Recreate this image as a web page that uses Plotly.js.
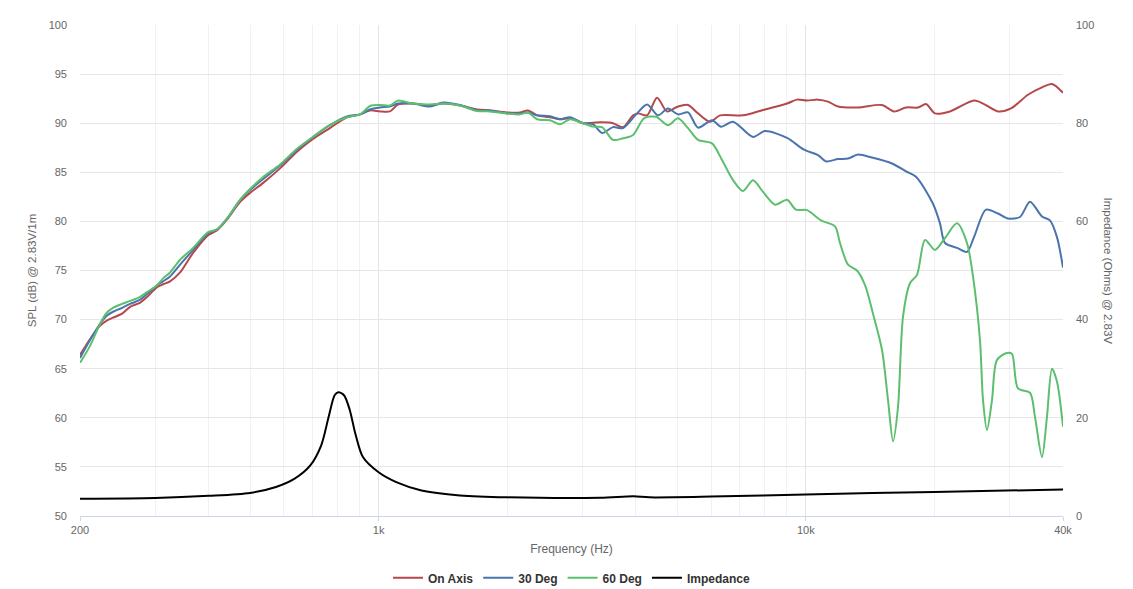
<!DOCTYPE html>
<html>
<head>
<meta charset="utf-8">
<script src="https://cdn.plot.ly/plotly-3.0.1.min.js"></script>
<style>
  html, body { margin: 0; padding: 0; background: #fff; }
  #chart { width: 1133px; height: 589px; }
</style>
</head>
<body>
<div id="chart"></div>
<script>
// frequency response
var onAxisFreq = [200, 211, 223, 231, 239, 251, 262, 276, 287, 303, 313, 325, 343, 368, 399, 419, 442, 474, 500, 536,
  588, 644, 702, 769, 843, 905, 955, 1008, 1063, 1110, 1204, 1319, 1415, 1551, 1700, 1823, 1998, 2143, 2237, 2349,
  2519, 2659, 2806, 3009, 3176, 3333, 3538, 3734, 3942, 4050, 4251, 4485, 4733, 5021, 5300, 5594, 5968, 6296, 7129, 7942,
  9038, 9538, 10062, 10680, 11272, 11894, 13250, 15081, 16088, 17163, 18310, 19114, 20064, 21754, 24757, 26128, 28179,
  30220, 33119, 35716, 37692, 40000];
var onAxis = [66.4, 68.0, 69.4, 69.9, 70.2, 70.6, 71.3, 71.7, 72.3, 73.3, 73.6, 73.9, 74.8, 76.8, 78.6, 79.1, 80.2, 82.0, 82.9, 83.9,
  85.4, 87.1, 88.4, 89.5, 90.6, 90.9, 91.3, 91.2, 91.2, 91.9, 92.0, 91.8, 92.0, 91.8, 91.4, 91.3, 91.1, 91.1, 91.3, 90.8,
  90.6, 90.4, 90.5, 90.0, 90.05, 90.1, 90.0, 89.6, 90.8, 91.0, 90.8, 92.6, 91.2, 91.7, 91.85, 91.0, 90.15, 90.8, 90.8, 91.35,
  92.0, 92.4, 92.3, 92.4, 92.2, 91.7, 91.6, 91.85, 91.2, 91.6, 91.6, 91.95, 91.0, 91.2, 92.3, 91.95, 91.2,
  91.5, 92.9, 93.65, 94.0, 93.1];

var deg30Freq = [200, 211, 223, 231, 239, 251, 262, 276, 287, 303, 313, 325, 343, 368, 399, 419, 442, 474, 500, 536,
  588, 644, 702, 769, 843, 905, 955, 1008, 1063, 1110, 1204, 1319, 1415, 1551, 1700, 1823, 1998, 2143, 2237, 2349,
  2519, 2659, 2806, 3009, 3176, 3333, 3538, 3734, 4026, 4251, 4508, 4758, 5021, 5300, 5594, 6032, 6333, 6757, 7524, 8027,
  9038, 9906, 10680, 11154, 11894, 12556, 13250, 14288, 15914, 17163, 18111, 19849, 20612, 21174, 22590, 23841, 24757,
  26414, 28179, 29738, 31722, 33478, 35716, 37286, 38720, 40000];
var deg30 = [66.1, 67.9, 69.6, 70.4, 70.8, 71.2, 71.6, 72.0, 72.6, 73.5, 73.9, 74.4, 75.6, 77.1, 78.8, 79.2, 80.3, 82.2, 83.2, 84.3,
  85.7, 87.3, 88.6, 89.8, 90.7, 90.9, 91.4, 91.6, 91.7, 92.0, 92.0, 91.7, 92.1, 91.85, 91.3, 91.3, 91.0, 91.0, 91.1, 90.8,
  90.7, 90.4, 90.6, 90.0, 89.9, 89.0, 89.6, 89.5, 91.0, 91.9, 90.8, 91.5, 90.9, 91.1, 89.55, 90.3, 89.65, 90.15, 88.6, 89.2,
  88.5, 87.3, 86.75, 86.1, 86.35, 86.4, 86.8, 86.5, 85.9, 85.1, 84.55, 81.8, 79.8, 77.8, 77.3, 76.9, 78.4,
  81.2, 80.8, 80.3, 80.45, 82.0, 80.5, 80.1, 78.4, 75.3];

var deg60Freq = [200, 211, 223, 231, 239, 251, 262, 276, 287, 303, 313, 325, 343, 368, 399, 419, 442, 474, 500, 536,
  588, 644, 702, 769, 843, 905, 955, 1008, 1063, 1110, 1204, 1319, 1415, 1551, 1700, 1823, 1998, 2143, 2237, 2349,
  2519, 2659, 2806, 3009, 3176, 3333, 3538, 3734, 3942, 4181, 4460, 4758, 5021, 5300, 5594, 6032, 6366, 6757, 7129, 7524,
  7942, 8474, 9038, 9484, 10062, 10853, 11703, 12023, 12556, 13178, 13760, 14366, 15081, 15576, 16003, 16438, 16888,
  17535, 18212, 19013, 20064, 21174, 22590, 23841, 24626, 25569, 25990, 26557, 27281, 28026, 29574, 30382, 31380,
  33478, 34392, 35716, 36690, 37692, 38720, 40000];
var deg60 = [65.6, 67.3, 69.6, 70.7, 71.2, 71.6, 71.9, 72.3, 72.8, 73.5, 74.2, 74.8, 76.1, 77.3, 78.9, 79.2, 80.3, 82.2, 83.3, 84.5,
  85.8, 87.4, 88.6, 89.8, 90.6, 90.9, 91.75, 91.85, 91.8, 92.3, 92.0, 91.9, 92.0, 91.8, 91.24, 91.2, 91.0, 90.9, 91.1, 90.4,
  90.3, 89.9, 90.4, 90.0, 89.65, 89.6, 88.3, 88.46, 88.8, 90.5, 90.66, 89.8, 90.5, 89.5, 88.3, 87.95, 86.25, 84.2, 83.1, 84.2,
  83.0, 81.7, 82.2, 81.2, 81.15, 80.1, 79.5, 77.8, 75.6, 75.0, 73.5, 70.6, 66.9, 61.8, 57.6, 61.1, 70.3,
  73.7, 74.55, 78.1, 77.1, 78.3, 79.8, 77.8, 74.4, 67.9, 61.8, 58.75, 61.8, 65.9, 66.6, 66.5, 63.0,
  62.55, 60.1, 56.0, 60.1, 65.0, 63.7, 59.1];

var impFreq = [200, 300, 400, 500, 575, 636, 692, 734, 764, 789, 805, 830, 856, 882, 919, 1000, 1100, 1260, 1550,
  2000, 3300, 3950, 4300, 6000, 10000, 20000, 40000];
var impedance = [3.5, 3.65, 4.1, 4.7, 5.9, 7.6, 10.3, 14.4, 20.2, 24.6, 25.2, 24.6, 21.6, 16.8, 12.0, 8.9, 6.9, 5.2, 4.2,
  3.8, 3.7, 4.0, 3.8, 3.95, 4.4, 4.9, 5.4];

var xTickVals = [200, 1000, 10000, 40000];
var xTickText = ['200', '1k', '10k', '40k'];
var xMinorVals = [300, 400, 500, 600, 700, 800, 900, 2000, 3000, 4000, 5000, 6000, 7000, 8000, 9000, 20000, 30000];

var font = 'Liberation Sans, Arial, sans-serif';

function splTrace(name, x, y, color) {
  return {
    x: x, y: y, name: name,
    type: 'scatter', mode: 'lines',
    line: { color: color, width: 2, shape: 'spline', smoothing: 0.8 },
    hoverinfo: 'skip'
  };
}

var data = [
  splTrace('On Axis', onAxisFreq, onAxis, '#b5484b'),
  splTrace('30 Deg', deg30Freq, deg30, '#4a74ad'),
  splTrace('60 Deg', deg60Freq, deg60, '#5cbf6e'),
  {
    x: impFreq, y: impedance, name: 'Impedance', yaxis: 'y2',
    type: 'scatter', mode: 'lines',
    line: { color: '#000000', width: 2, shape: 'spline', smoothing: 0.8 },
    hoverinfo: 'skip'
  }
];

var layout = {
  width: 1133, height: 589,
  margin: { l: 80, r: 70, t: 25, b: 73, autoexpand: false },
  paper_bgcolor: '#ffffff', plot_bgcolor: '#ffffff',
  font: { family: font, color: '#666666', size: 11 },
  showlegend: true,
  legend: {
    orientation: 'h', x: 0.5, xanchor: 'center', y: -0.126, yanchor: 'middle',
    font: { family: font, size: 12, color: '#333333', weight: 'bold' },
    itemwidth: 30, tracegroupgap: 0
  },
  xaxis: {
    type: 'log',
    range: [Math.log10(200), Math.log10(40000)],
    tickmode: 'array', tickvals: xTickVals, ticktext: xTickText,
    showgrid: true, gridcolor: '#dfe3ea', gridwidth: 1,
    minor: { tickmode: 'array', tickvals: xMinorVals, showgrid: true, gridcolor: '#f1f1f1', ticks: '' },
    showline: true, linecolor: '#ccd6eb', linewidth: 1,
    ticks: 'outside', ticklen: 4, tickcolor: '#ccd6eb',
    ticklabelstandoff: 0,
    zeroline: false, automargin: false,
    tickfont: { family: font, size: 11, color: '#666666' },
    title: { text: 'Frequency (Hz)', font: { family: font, size: 12, color: '#666666' }, standoff: 9 }
  },
  yaxis: {
    range: [50, 100], tick0: 50, dtick: 5,
    showgrid: true, gridcolor: '#e6e6e6', zeroline: false, showline: false,
    ticks: '', ticklabelstandoff: 12, automargin: false,
    tickfont: { family: font, size: 11, color: '#666666' },
    title: { text: 'SPL (dB) @ 2.83V/1m', font: { family: font, size: 11.5, color: '#666666' }, standoff: 9 }
  },
  yaxis2: {
    overlaying: 'y', side: 'right',
    range: [0, 100], tick0: 0, dtick: 20,
    showgrid: false, zeroline: false, showline: false,
    ticks: '', ticklabelstandoff: 12, automargin: false,
    tickfont: { family: font, size: 11, color: '#666666' }
  },
  annotations: [{
    text: 'Impedance (Ohms) @ 2.83V',
    xref: 'paper', yref: 'paper', x: 1.0458, y: 0.5,
    xanchor: 'center', yanchor: 'middle', textangle: 90, showarrow: false,
    font: { family: font, size: 11.5, color: '#666666' }
  }]
};

Plotly.newPlot('chart', data, layout, { staticPlot: true, displayModeBar: false });
</script>
</body>
</html>
